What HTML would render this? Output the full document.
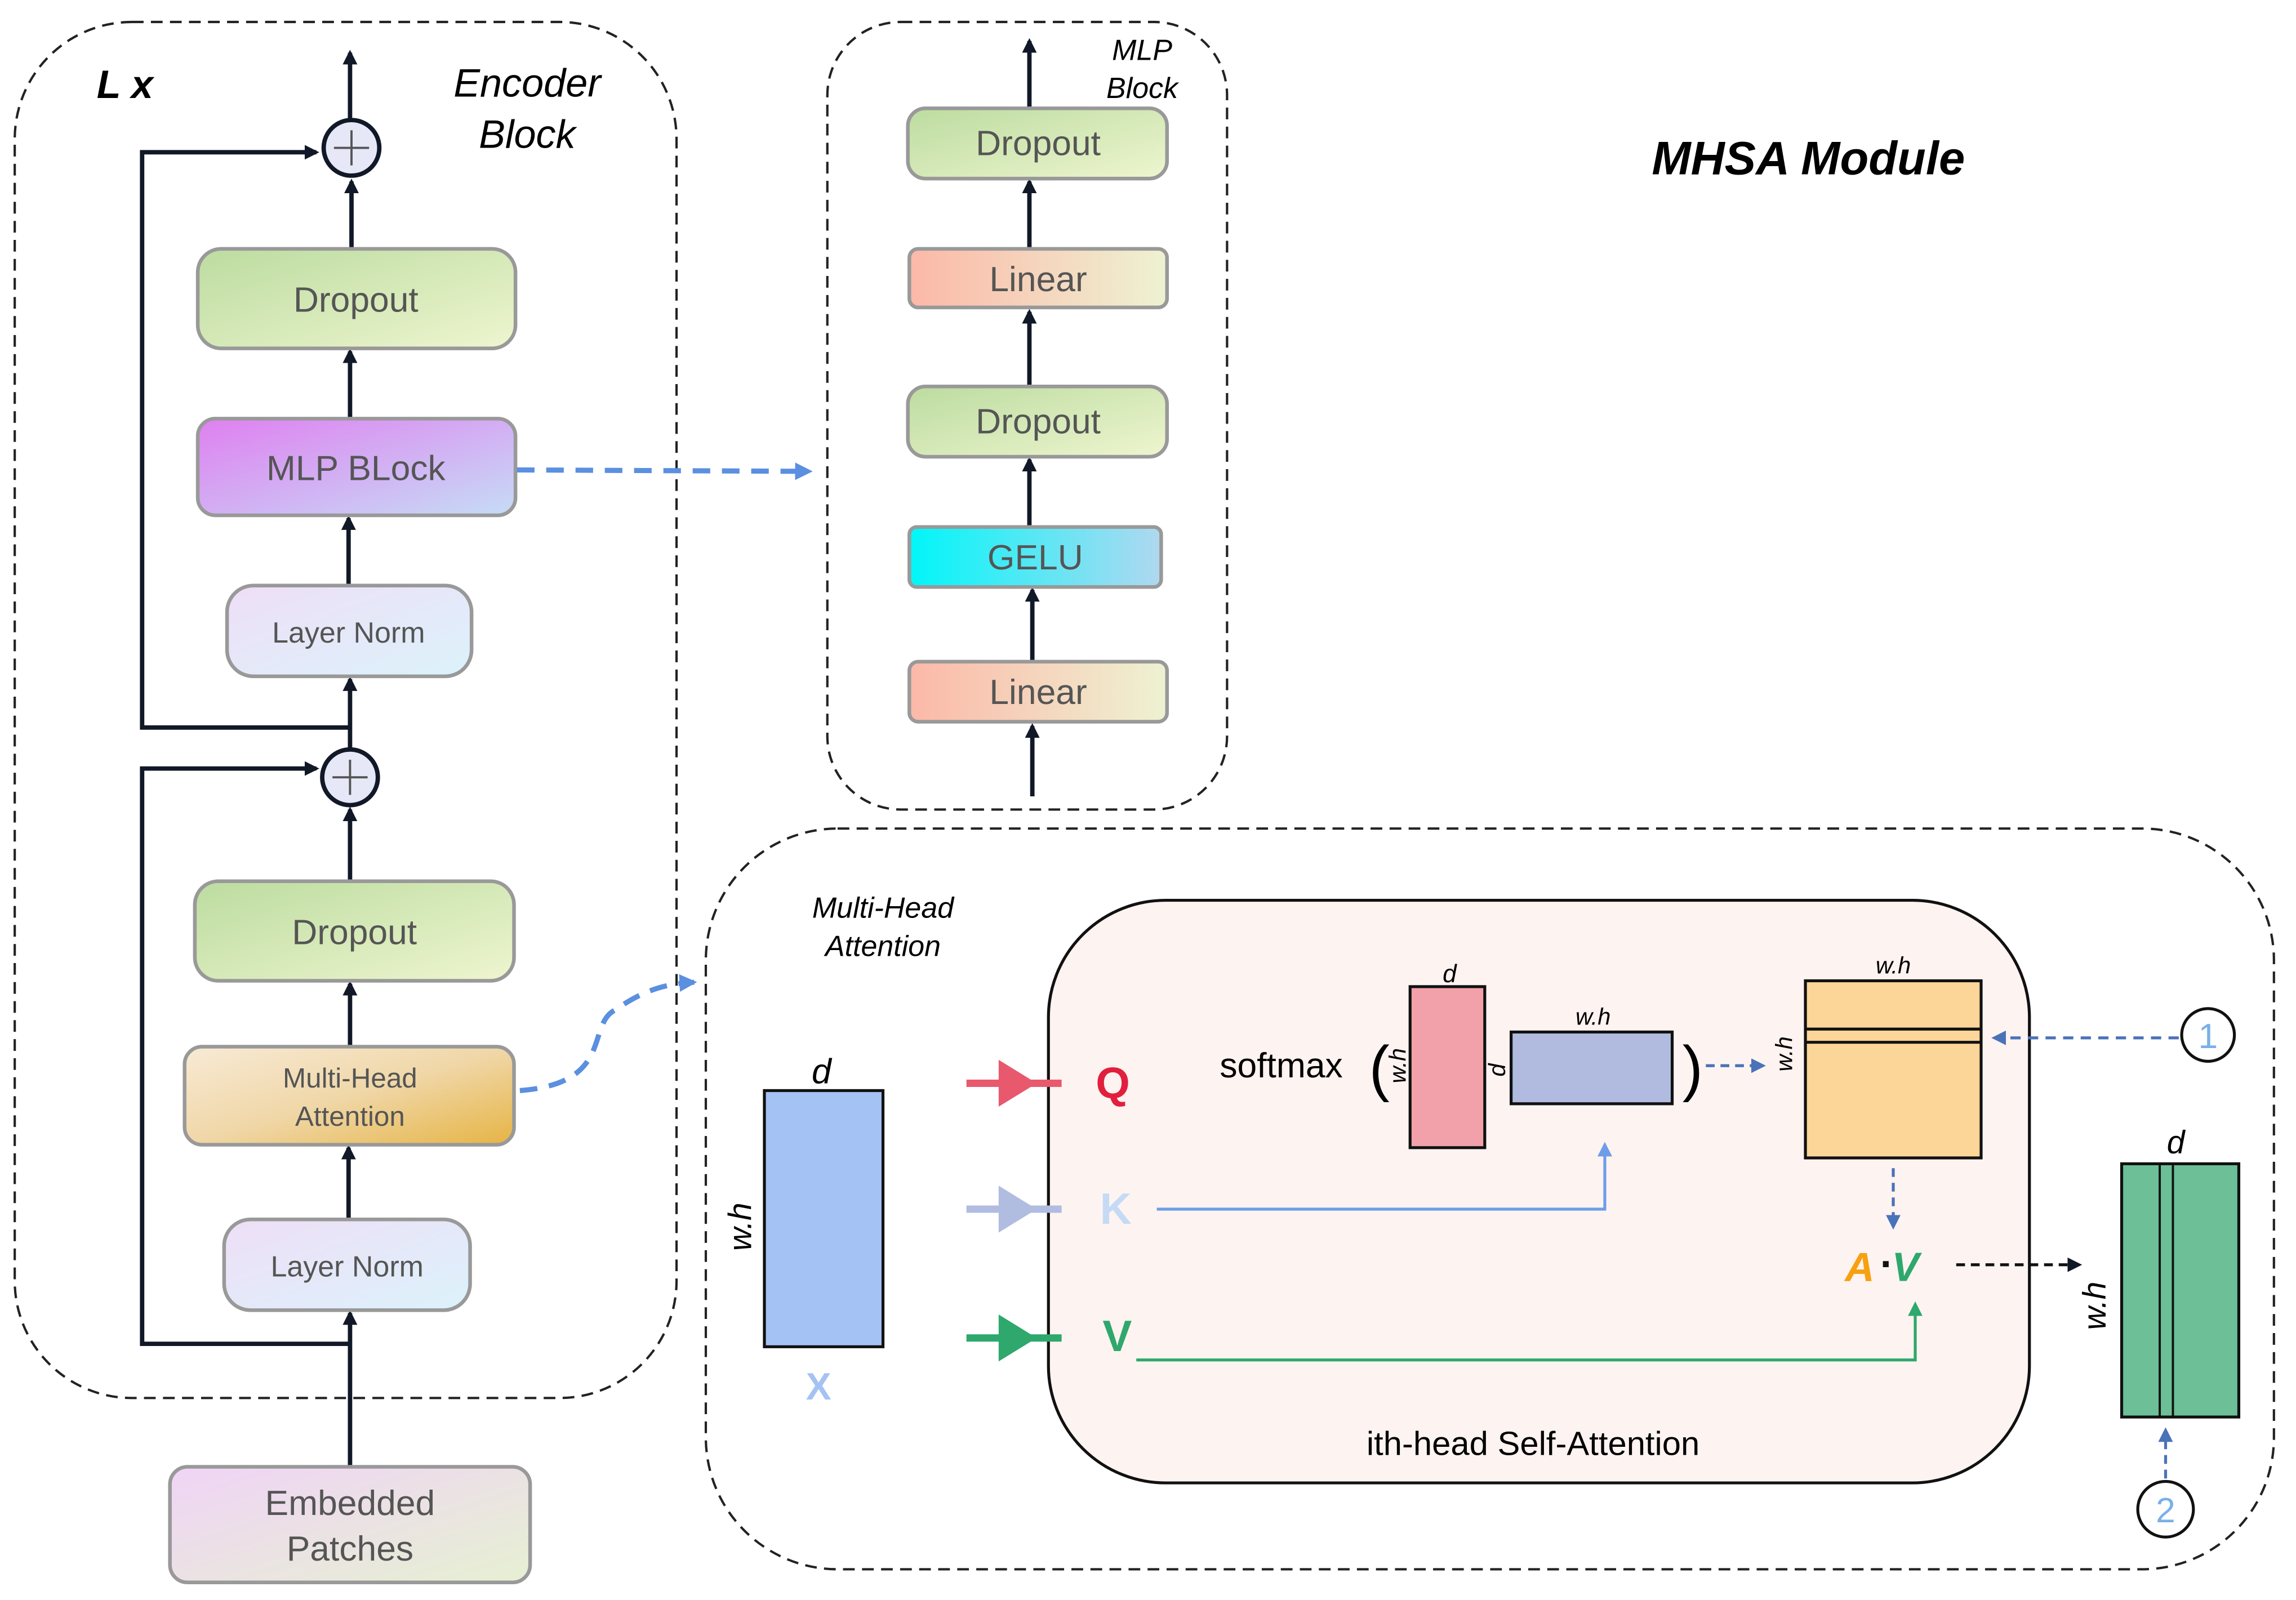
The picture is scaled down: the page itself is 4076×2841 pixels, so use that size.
<!DOCTYPE html>
<html><head><meta charset="utf-8"><style>
html,body{margin:0;padding:0;background:#fff;}
svg{display:block;}
text{font-family:"Liberation Sans",sans-serif;}
</style></head><body>
<svg width="4076" height="2841" viewBox="0 0 1568 1093" xmlns="http://www.w3.org/2000/svg">
<defs>
<linearGradient id="gDrop" x1="0" y1="0" x2="1" y2="1"><stop offset="0" stop-color="#bcdca0"/><stop offset="1" stop-color="#eef5cf"/></linearGradient>
<linearGradient id="gMLP" x1="0" y1="0" x2="1" y2="1"><stop offset="0" stop-color="#df80f0"/><stop offset="1" stop-color="#c6dcf6"/></linearGradient>
<linearGradient id="gLN" x1="0" y1="0" x2="1" y2="1"><stop offset="0" stop-color="#eedff6"/><stop offset="1" stop-color="#dcf2fb"/></linearGradient>
<linearGradient id="gMHA" x1="0" y1="0" x2="1" y2="1"><stop offset="0" stop-color="#f8ead6"/><stop offset="0.5" stop-color="#f0d7a8"/><stop offset="1" stop-color="#e6b444"/></linearGradient>
<linearGradient id="gEmb" x1="0" y1="0" x2="1" y2="1"><stop offset="0" stop-color="#f0d4f6"/><stop offset="1" stop-color="#e6f0d2"/></linearGradient>
<linearGradient id="gLin" x1="0" y1="0" x2="1" y2="0"><stop offset="0" stop-color="#fcb8a8"/><stop offset="1" stop-color="#eef2d2"/></linearGradient>
<linearGradient id="gGelu" x1="0" y1="0" x2="1" y2="0"><stop offset="0" stop-color="#00f6f8"/><stop offset="1" stop-color="#b0d8f0"/></linearGradient>
<marker id="ak" markerWidth="10" markerHeight="10" refX="8" refY="5" orient="auto" markerUnits="userSpaceOnUse"><path d="M0,0 L10,5 L0,10 z" fill="#111827"/></marker>
<marker id="ab" markerWidth="12" markerHeight="12" refX="10" refY="6" orient="auto" markerUnits="userSpaceOnUse"><path d="M0,0 L12,6 L0,12 z" fill="#5b8fe0"/></marker>
<marker id="ab2" markerWidth="10" markerHeight="10" refX="8" refY="5" orient="auto" markerUnits="userSpaceOnUse"><path d="M0,0 L10,5 L0,10 z" fill="#4a72b8"/></marker>
<marker id="ag" markerWidth="10" markerHeight="10" refX="8" refY="5" orient="auto" markerUnits="userSpaceOnUse"><path d="M0,0 L10,5 L0,10 z" fill="#2ea86c"/></marker>
<marker id="al" markerWidth="10" markerHeight="10" refX="8" refY="5" orient="auto" markerUnits="userSpaceOnUse"><path d="M0,0 L10,5 L0,10 z" fill="#6e9de8"/></marker>
</defs>

<!-- Encoder block -->
<rect x="10" y="15" width="452" height="940" rx="80" fill="none" stroke="#222" stroke-width="1.6" stroke-dasharray="8,5"/>
<text x="66" y="67" font-size="27" font-weight="bold" font-style="italic">L x</text>
<text x="360" y="66" font-size="27" font-style="italic" text-anchor="middle">Encoder</text>
<text x="360" y="101" font-size="27" font-style="italic" text-anchor="middle">Block</text>

<g stroke="#111827" stroke-width="3" fill="none">
<line x1="239" y1="81" x2="239" y2="36" marker-end="url(#ak)"/>
<line x1="240" y1="170" x2="240" y2="124" marker-end="url(#ak)"/>
<line x1="239" y1="286" x2="239" y2="240" marker-end="url(#ak)"/>
<line x1="238" y1="400" x2="238" y2="354" marker-end="url(#ak)"/>
<line x1="239" y1="512" x2="239" y2="464" marker-end="url(#ak)"/>
<polyline points="239,497 97,497 97,104 216,104" marker-end="url(#ak)"/>
<line x1="239" y1="602" x2="239" y2="553" marker-end="url(#ak)"/>
<line x1="239" y1="715" x2="239" y2="672" marker-end="url(#ak)"/>
<line x1="238" y1="833" x2="238" y2="784" marker-end="url(#ak)"/>
<line x1="239" y1="1002" x2="239" y2="897" marker-end="url(#ak)"/>
<polyline points="239,918 97,918 97,525 216,525" marker-end="url(#ak)"/>
</g>
<circle cx="240" cy="101" r="19" fill="#e6e8f8" stroke="#111827" stroke-width="3"/>
<path d="M228,101 H252 M240,89 V113" stroke="#555" stroke-width="1.5"/>
<circle cx="239" cy="531" r="19" fill="#e6e8f8" stroke="#111827" stroke-width="3"/>
<path d="M227,531 H251 M239,519 V543" stroke="#555" stroke-width="1.5"/>

<g stroke="#999" stroke-width="2.5">
<rect x="135" y="170" width="217" height="68" rx="16" fill="url(#gDrop)"/>
<rect x="135" y="286" width="217" height="66" rx="12" fill="url(#gMLP)"/>
<rect x="155" y="400" width="167" height="62" rx="18" fill="url(#gLN)"/>
<rect x="133" y="602" width="218" height="68" rx="16" fill="url(#gDrop)"/>
<rect x="126" y="715" width="225" height="67" rx="12" fill="url(#gMHA)"/>
<rect x="153" y="833" width="168" height="62" rx="18" fill="url(#gLN)"/>
<rect x="116" y="1002" width="246" height="79" rx="12" fill="url(#gEmb)"/>
</g>
<g fill="#555" text-anchor="middle">
<text x="243" y="213" font-size="24">Dropout</text>
<text x="243" y="328" font-size="24">MLP BLock</text>
<text x="238" y="439" font-size="20">Layer Norm</text>
<text x="242" y="645" font-size="24">Dropout</text>
<text x="239" y="743" font-size="19">Multi-Head</text>
<text x="239" y="769" font-size="19">Attention</text>
<text x="237" y="872" font-size="20">Layer Norm</text>
<text x="239" y="1035" font-size="24">Embedded</text>
<text x="239" y="1066" font-size="24">Patches</text>
</g>

<!-- blue dashed connectors -->
<line x1="353" y1="321" x2="553" y2="322" stroke="#5b8fe0" stroke-width="3.5" stroke-dasharray="12,8" marker-end="url(#ab)"/>
<path d="M355,745 C420,740 400,700 420,690 C440,676 455,672 474,671" fill="none" stroke="#5b8fe0" stroke-width="3.5" stroke-dasharray="12,8" marker-end="url(#ab)"/>

<!-- MLP block -->
<rect x="565" y="15" width="273" height="538" rx="50" fill="none" stroke="#222" stroke-width="1.6" stroke-dasharray="8,5"/>
<text x="780" y="41" font-size="20" font-style="italic" text-anchor="middle">MLP</text>
<text x="780" y="67" font-size="20" font-style="italic" text-anchor="middle">Block</text>
<g stroke="#111827" stroke-width="3">
<line x1="703" y1="74" x2="703" y2="28" marker-end="url(#ak)"/>
<line x1="703" y1="170" x2="703" y2="124" marker-end="url(#ak)"/>
<line x1="703" y1="264" x2="703" y2="213" marker-end="url(#ak)"/>
<line x1="703" y1="360" x2="703" y2="314" marker-end="url(#ak)"/>
<line x1="705" y1="452" x2="705" y2="403" marker-end="url(#ak)"/>
<line x1="705" y1="544" x2="705" y2="496" marker-end="url(#ak)"/>
</g>
<g stroke="#999" stroke-width="2.5">
<rect x="620" y="74" width="177" height="48" rx="12" fill="url(#gDrop)"/>
<rect x="621" y="170" width="176" height="40" rx="6" fill="url(#gLin)"/>
<rect x="620" y="264" width="177" height="48" rx="12" fill="url(#gDrop)"/>
<rect x="621" y="360" width="172" height="41" rx="5" fill="url(#gGelu)"/>
<rect x="621" y="452" width="176" height="41" rx="6" fill="url(#gLin)"/>
</g>
<g fill="#555" text-anchor="middle" font-size="24">
<text x="709" y="106">Dropout</text>
<text x="709" y="199">Linear</text>
<text x="709" y="296">Dropout</text>
<text x="707" y="389">GELU</text>
<text x="709" y="481">Linear</text>
</g>

<text x="1235" y="119" font-size="32" font-weight="bold" font-style="italic" text-anchor="middle">MHSA Module</text>

<!-- MHSA box -->
<rect x="482" y="566" width="1071" height="506" rx="90" fill="none" stroke="#222" stroke-width="1.6" stroke-dasharray="8,5"/>
<text x="603" y="627" font-size="20" font-style="italic" text-anchor="middle">Multi-Head</text>
<text x="603" y="653" font-size="20" font-style="italic" text-anchor="middle">Attention</text>
<rect x="522" y="745" width="81" height="175" fill="#a4c2f4" stroke="#111" stroke-width="2"/>
<text x="561" y="740" font-size="24" font-style="italic" text-anchor="middle">d</text>
<text transform="translate(513,838) rotate(-90)" font-size="22" font-style="italic" text-anchor="middle">w.h</text>
<text x="559" y="956" font-size="26" font-weight="bold" fill="#a4c2f4" text-anchor="middle">X</text>

<rect x="716" y="615" width="670" height="398" rx="80" fill="#fdf3f1" stroke="#111" stroke-width="2"/>

<!-- Q K V arrows -->
<line x1="660" y1="740" x2="725" y2="740" stroke="#e8596e" stroke-width="5"/>
<path d="M682,724 L708,740 L682,756 z" fill="#e8596e"/>
<line x1="660" y1="826" x2="725" y2="826" stroke="#b0bce0" stroke-width="5"/>
<path d="M682,810 L708,826 L682,842 z" fill="#b0bce0"/>
<line x1="660" y1="914" x2="725" y2="914" stroke="#2ea86c" stroke-width="5"/>
<path d="M682,898 L708,914 L682,930 z" fill="#2ea86c"/>
<text x="760" y="750" font-size="30" font-weight="bold" fill="#e0203c" text-anchor="middle">Q</text>
<text x="762" y="836" font-size="30" font-weight="bold" fill="#c5daf5" text-anchor="middle">K</text>
<text x="763" y="923" font-size="30" font-weight="bold" fill="#2ea86c" text-anchor="middle">V</text>

<text x="875" y="736" font-size="24" text-anchor="middle">softmax</text>
<text x="942" y="744" font-size="42" text-anchor="middle">(</text>
<rect x="963" y="674" width="51" height="110" fill="#f2a0aa" stroke="#111" stroke-width="2"/>
<text x="990" y="671" font-size="17" font-style="italic" text-anchor="middle">d</text>
<text transform="translate(960,728) rotate(-90)" font-size="16" font-style="italic" text-anchor="middle">w.h</text>
<text transform="translate(1028,731) rotate(-90)" font-size="16" font-style="italic" text-anchor="middle">d</text>
<rect x="1032" y="705" width="110" height="49" fill="#b0bbdf" stroke="#111" stroke-width="2"/>
<text x="1088" y="700" font-size="16" font-style="italic" text-anchor="middle">w.h</text>
<text x="1156" y="744" font-size="42" text-anchor="middle">)</text>
<line x1="1165" y1="728" x2="1204" y2="728" stroke="#4a72b8" stroke-width="2" stroke-dasharray="6,4" marker-end="url(#ab2)"/>

<rect x="1233" y="670" width="120" height="121" fill="#fcd598" stroke="#111" stroke-width="2"/>
<line x1="1233" y1="703" x2="1353" y2="703" stroke="#111" stroke-width="2"/>
<line x1="1233" y1="712" x2="1353" y2="712" stroke="#111" stroke-width="2"/>
<text x="1293" y="665" font-size="16" font-style="italic" text-anchor="middle">w.h</text>
<text transform="translate(1224,720) rotate(-90)" font-size="16" font-style="italic" text-anchor="middle">w.h</text>

<circle cx="1508" cy="707" r="18" fill="#fff" stroke="#111" stroke-width="2"/>
<text x="1508" y="716" font-size="24" fill="#7ab0e8" text-anchor="middle">1</text>
<line x1="1488" y1="709" x2="1362" y2="709" stroke="#4a72b8" stroke-width="2" stroke-dasharray="7,5" marker-end="url(#ab2)"/>

<polyline points="790,826 1096,826 1096,782" fill="none" stroke="#6e9de8" stroke-width="2" marker-end="url(#al)"/>
<polyline points="776,929 1308,929 1308,891" fill="none" stroke="#2ea86c" stroke-width="2" marker-end="url(#ag)"/>
<line x1="1293" y1="798" x2="1293" y2="838" stroke="#4a72b8" stroke-width="2" stroke-dasharray="6,4" marker-end="url(#ab2)"/>

<text x="1260" y="875" font-size="28" font-weight="bold" font-style="italic" fill="#f7a010">A</text>
<text x="1284" y="873" font-size="28" font-weight="bold" fill="#111">·</text>
<text x="1292" y="875" font-size="28" font-weight="bold" font-style="italic" fill="#2ea86c">V</text>
<line x1="1336" y1="864" x2="1420" y2="864" stroke="#111" stroke-width="2" stroke-dasharray="6,4" marker-end="url(#ak)"/>

<rect x="1449" y="795" width="80" height="173" fill="#6cbf97" stroke="#111" stroke-width="2"/>
<line x1="1475" y1="795" x2="1475" y2="968" stroke="#111" stroke-width="1.5"/>
<line x1="1484" y1="795" x2="1484" y2="968" stroke="#111" stroke-width="1.5"/>
<text x="1486" y="788" font-size="22" font-style="italic" text-anchor="middle">d</text>
<text transform="translate(1438,892) rotate(-90)" font-size="22" font-style="italic" text-anchor="middle">w.h</text>

<circle cx="1479" cy="1031" r="19" fill="#fff" stroke="#111" stroke-width="2"/>
<text x="1479" y="1040" font-size="24" fill="#7ab0e8" text-anchor="middle">2</text>
<line x1="1479" y1="1010" x2="1479" y2="977" stroke="#4a72b8" stroke-width="2" stroke-dasharray="6,4" marker-end="url(#ab2)"/>

<text x="1047" y="994" font-size="23" text-anchor="middle">ith-head Self-Attention</text>
</svg>
</body></html>
